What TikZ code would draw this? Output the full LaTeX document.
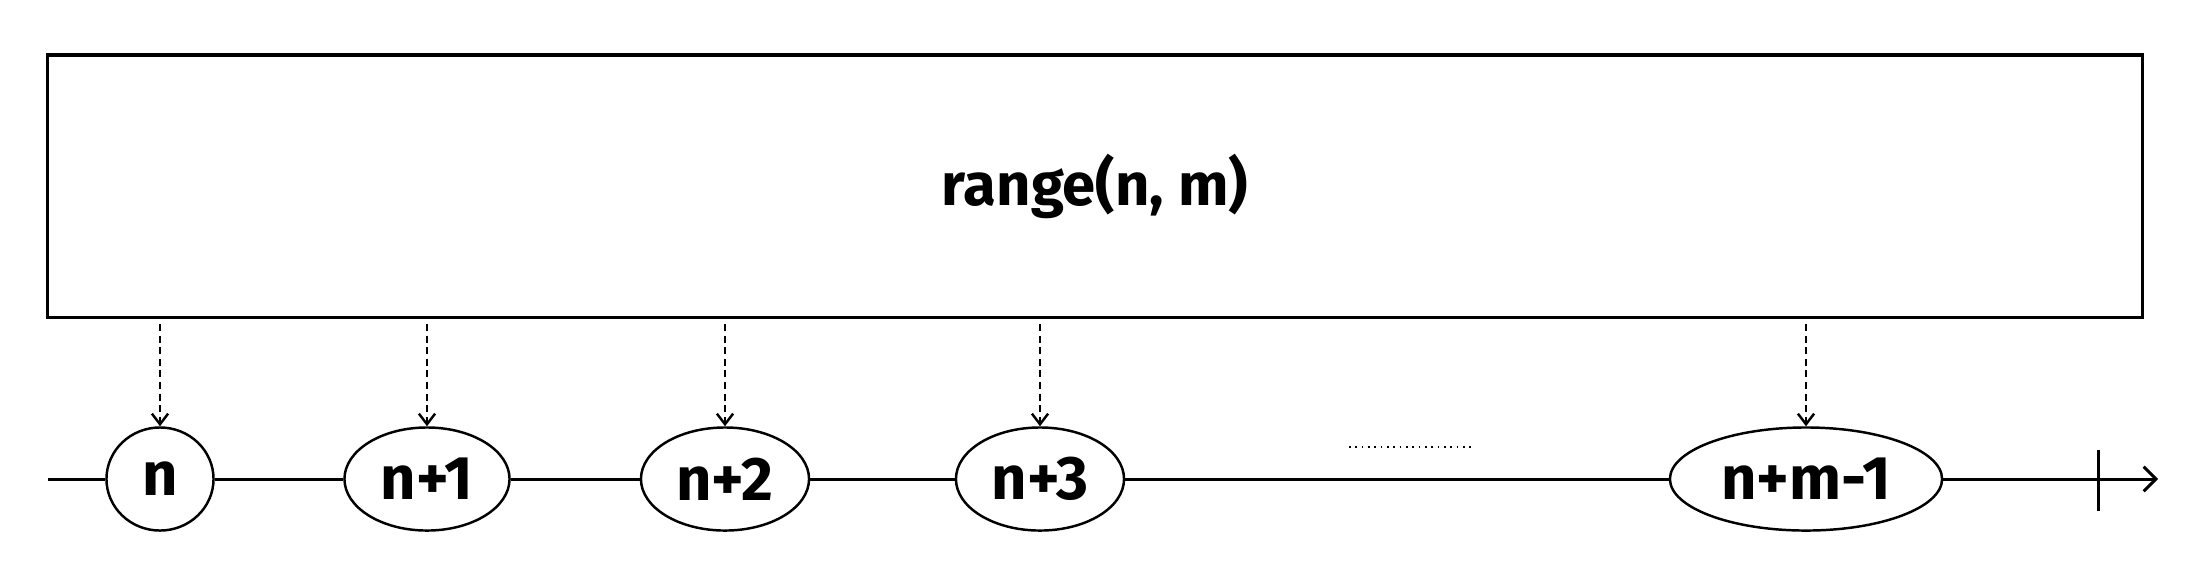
\documentclass[tikz,border=0pt]{standalone}
\usepackage{fontspec}
\setmainfont{Fira Sans}
\usetikzlibrary{arrows.meta, positioning, shapes.geometric}

\begin{document}
\begin{tikzpicture}[
    x=0.01cm, y=-0.01cm,
    rangebox/.style={rectangle, draw, line width=0.9pt, minimum width=20.94cm, minimum height=2.62cm, inner sep=0pt, font=\fontsize{17}{20}\selectfont\bfseries},
    elem/.style={ellipse, draw, fill=white, line width=0.7pt, minimum height=1.03cm, inner sep=0pt, font=\fontsize{17.5}{20}\selectfont\bfseries},
    dasharrow/.style={-{Straight Barb[length=3pt, width=4.6pt]}, line width=0.7pt, dash pattern=on 2pt off 1.3pt, shorten <=1.5pt},
    axis/.style={line width=0.85pt},
    ellipsisline/.style={line width=0.5pt, dash pattern=on 0.5pt off 1.3pt}
]
\useasboundingbox (0,0) rectangle (2200,584);

% Top box
\node[rangebox] (range) at (1095,186) {range(n, m)};

% Elements on the number line
\node[elem, minimum width=1.07cm] (n) at (160,479) {n};
\node[elem, minimum width=1.65cm] (n1) at (427,479) {n+1};
\node[elem, minimum width=1.68cm] (n2) at (725,479) {n+2};
\node[elem, minimum width=1.68cm] (n3) at (1040,479) {n+3};
\node[elem, minimum width=2.72cm] (nm) at (1806,479) {n+m-1};

\coordinate (axstart) at (48,479);
\coordinate (axend) at (2158,479);
\coordinate (tick) at (2098,479);
\coordinate (dotsL) at (1349,447);
\coordinate (dotsR) at (1475,447);

% Number line
\draw[axis, -{Straight Barb[length=3.5pt, width=7pt]}] (axstart) -- (n) -- (n1) -- (n2) -- (n3) -- (nm) -- (axend);
\draw[axis] (tick) ++(0,-29) -- ++(0,61);
\draw[ellipsisline] (dotsL) -- (dotsR);

% Arrows
\draw[dasharrow] (range.south -| n.north) -- (n.north);
\draw[dasharrow] (range.south -| n1.north) -- (n1.north);
\draw[dasharrow] (range.south -| n2.north) -- (n2.north);
\draw[dasharrow] (range.south -| n3.north) -- (n3.north);
\draw[dasharrow] (range.south -| nm.north) -- (nm.north);

\end{tikzpicture}
\end{document}
